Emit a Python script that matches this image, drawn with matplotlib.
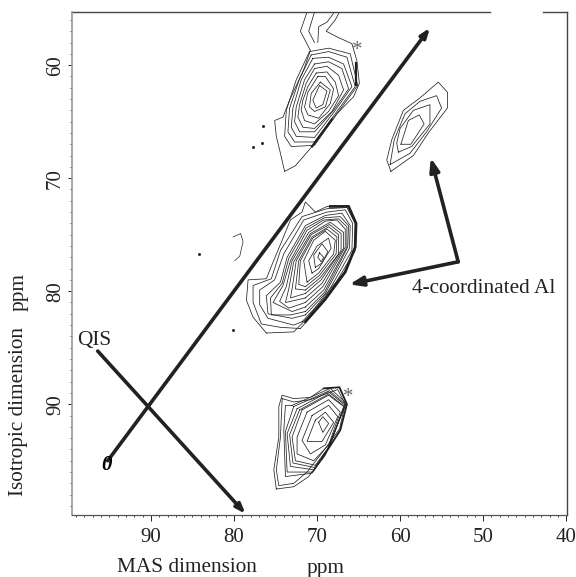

import matplotlib
matplotlib.use("Agg")
import matplotlib.pyplot as plt
from matplotlib.ticker import MultipleLocator

plt.rcParams["font.family"] = ["Liberation Serif", "DejaVu Serif"]

INK = "#222222"

# every ring is a list of (MAS ppm, isotropic ppm), outermost first
peak_a_open = [
    [(73.9, 69.4), (72.6, 68.9), (70.6, 67.2), (69.2, 65.8), (67.6, 64.3), (65.6, 62.8), (64.9, 61.6), (65.2, 59.6),
     (65.8, 58.1), (67.6, 57.5), (68.9, 57.0), (67.8, 56.0), (67.3, 55.3)],
    [(71.2, 55.3), (72.0, 57.0), (70.8, 58.7), (71.6, 60.4), (73.3, 63.1), (74.1, 64.6), (75.1, 64.9), (74.9, 66.3),
     (74.5, 67.5), (73.9, 69.4)],
    [(70.3, 55.3), (71.0, 57.0), (70.3, 58.0)],
    [(69.9, 58.0), (69.8, 56.6), (68.8, 56.2), (67.9, 55.3)],
]
peak_a_rings = [
    [(70.9, 58.8), (68.6, 58.5), (66.0, 59.0), (65.1, 61.8), (67.4, 64.1), (70.3, 67.1), (73.1, 67.2), (73.9, 66.3),
     (73.7, 64.0), (72.5, 61.3)],
    [(70.7, 59.1), (68.6, 58.8), (66.4, 59.3), (65.4, 61.9), (67.6, 64.1), (70.3, 66.8), (72.7, 66.8), (73.5, 65.9),
     (73.3, 63.8), (72.1, 61.2)],
    [(70.5, 59.4), (68.6, 59.3), (66.8, 59.9), (65.8, 61.9), (67.8, 64.0), (70.3, 66.4), (72.5, 66.3), (73.1, 65.5),
     (72.9, 63.8), (71.9, 61.3)],
    [(70.3, 59.9), (68.6, 59.7), (67.0, 60.3), (66.2, 62.1), (68.0, 64.0), (70.3, 65.9), (72.1, 65.9), (72.7, 65.0),
     (72.5, 63.7), (71.5, 61.3)],
    [(70.3, 60.3), (68.8, 60.1), (67.4, 60.9), (66.8, 62.2), (68.2, 64.1), (70.3, 65.6), (71.7, 65.5), (72.3, 64.6),
     (72.1, 63.5), (71.3, 61.6)],
    [(70.1, 60.7), (68.8, 60.6), (67.8, 61.5), (67.4, 62.7), (68.6, 64.1), (70.3, 65.2), (71.5, 64.9), (71.9, 64.0),
     (71.7, 63.1), (71.1, 61.9)],
    [(69.9, 61.0), (69.0, 61.0), (68.0, 62.1), (68.4, 63.4), (69.8, 64.7), (71.1, 64.4), (71.5, 63.7), (71.1, 62.4)],
    [(69.6, 61.5), (68.4, 62.2), (69.0, 63.7), (70.3, 64.1), (70.9, 63.7), (70.7, 62.5)],
    [(69.7, 61.8), (68.8, 62.3), (69.3, 63.5), (70.1, 63.8), (70.5, 63.1)],
]
peak_a_edge = [(70.6, 67.2), (69.2, 65.8), (68.2, 64.8)]
peak_a_side = [(65.3, 59.8), (65.3, 61.8)]

peak_b_rings = [
    [(76.1, 83.7), (72.8, 83.6), (71.2, 82.4), (69.2, 80.5), (66.8, 78.4), (65.4, 76.4), (65.3, 74.0), (66.2, 72.5),
     (68.8, 72.5), (70.2, 73.0), (71.4, 72.1), (71.8, 73.0), (73.2, 73.7), (74.2, 75.5), (75.5, 77.8), (76.1, 78.9),
     (78.3, 79.0), (78.5, 80.8), (77.7, 82.3)],
    [(72.0, 83.3), (69.0, 80.8), (65.5, 76.5), (65.4, 74.0), (66.4, 72.6), (68.8, 72.7), (71.8, 73.4), (74.4, 76.4),
     (75.5, 78.9), (77.7, 79.5), (77.7, 81.0), (76.7, 82.9), (74.4, 83.2)],
    [(71.8, 82.7), (69.0, 80.5), (65.8, 76.4), (65.7, 74.0), (66.6, 72.8), (68.8, 73.0), (71.6, 73.7), (74.0, 76.7),
     (75.1, 79.0), (76.9, 79.9), (76.9, 81.2), (75.9, 82.4), (72.8, 83.0)],
    [(71.4, 82.1), (69.0, 80.2), (66.1, 76.2), (66.0, 74.2), (67.0, 73.1), (69.0, 73.3), (71.4, 74.2), (73.6, 77.0),
     (74.4, 79.2), (76.1, 80.4), (75.9, 82.0), (73.0, 82.4)],
    [(71.4, 81.8), (69.1, 80.1), (66.3, 76.1), (66.2, 74.2), (67.2, 73.4), (69.1, 73.5), (71.3, 74.4), (73.4, 77.1),
     (74.2, 79.3), (75.6, 80.6), (75.5, 82.1), (73.2, 82.1)],
    [(71.4, 81.4), (69.2, 79.9), (66.4, 76.1), (66.4, 74.3), (67.4, 73.6), (69.2, 73.7), (71.2, 74.6), (73.2, 77.3),
     (74.1, 79.5), (75.3, 81.0), (73.0, 81.8)],
    [(71.4, 81.0), (69.3, 79.6), (66.6, 76.1), (66.6, 74.5), (67.6, 73.7), (69.0, 73.8), (71.0, 74.8), (73.0, 77.3),
     (73.7, 79.6), (74.5, 80.9), (73.4, 81.5)],
    [(71.4, 80.6), (69.4, 79.3), (66.8, 76.2), (66.8, 74.8), (68.4, 73.9), (70.8, 74.9), (72.8, 77.4), (73.4, 79.8),
     (73.8, 81.0)],
    [(71.4, 80.2), (69.5, 79.0), (67.1, 76.4), (67.1, 74.9), (68.5, 74.1), (70.7, 75.0), (72.5, 77.3), (73.0, 79.8),
     (73.2, 80.6)],
    [(71.4, 79.9), (69.6, 78.8), (67.4, 76.7), (67.4, 75.0), (68.6, 74.3), (70.6, 75.2), (72.2, 77.3), (72.6, 79.8)],
    [(71.4, 79.6), (69.7, 78.6), (67.7, 76.7), (67.6, 75.2), (68.8, 74.5), (70.5, 75.3), (72.0, 77.3), (72.2, 79.4)],
    [(71.2, 79.2), (69.8, 78.4), (68.0, 76.7), (67.8, 75.5), (69.0, 74.7), (70.4, 75.5), (71.6, 77.3)],
    [(70.6, 78.4), (69.8, 78.0), (68.3, 76.2), (68.6, 75.3), (70.0, 76.0), (71.0, 77.3)],
    [(70.2, 77.9), (69.4, 77.5), (68.7, 76.5), (69.4, 75.8), (70.4, 76.8)],
    [(69.7, 76.6), (69.2, 77.0), (69.5, 77.4), (69.9, 77.0)],
]
peak_b_edge = [(71.4, 82.7), (69.0, 80.7), (66.6, 78.3), (65.4, 76.1), (65.3, 74.0), (66.2, 72.5), (68.4, 72.5)]

peak_c_rings = [
    [(74.9, 97.5), (72.8, 97.3), (71.0, 96.4), (69.4, 94.8), (67.2, 92.3), (66.4, 90.0), (67.3, 88.5), (69.2, 88.6),
     (70.8, 89.4), (72.8, 89.5), (74.2, 89.2), (74.6, 90.2), (74.6, 92.9), (75.2, 95.8)],
    [(74.2, 89.5), (74.4, 92.9), (74.9, 95.8), (74.6, 97.2), (72.8, 97.0), (71.2, 96.0), (69.5, 94.4), (67.3, 92.2),
     (66.6, 90.0), (67.5, 88.7), (70.8, 89.6), (72.8, 89.8)],
    [(73.0, 90.1), (68.4, 88.6), (66.5, 89.9), (69.0, 94.5), (70.6, 96.1), (73.8, 96.4), (74.0, 92.3), (73.8, 90.1)],
    [(72.8, 90.2), (68.5, 88.8), (66.6, 90.0), (68.9, 94.3), (70.5, 96.0), (73.6, 96.0), (73.8, 92.4)],
    [(72.4, 90.4), (68.6, 88.9), (66.6, 90.1), (68.8, 94.1), (70.4, 95.8), (73.2, 95.5), (73.6, 92.6)],
    [(72.1, 90.5), (68.6, 89.1), (66.7, 90.2), (68.6, 93.9), (70.3, 95.6), (72.9, 95.2), (73.3, 92.7)],
    [(71.8, 90.5), (68.6, 89.2), (66.8, 90.2), (68.4, 93.6), (70.2, 95.4), (72.6, 95.0), (73.0, 92.9)],
    [(71.2, 90.7), (68.6, 89.6), (67.2, 90.7), (68.6, 93.6), (70.4, 95.0), (72.4, 94.4), (72.4, 92.9)],
    [(70.6, 91.0), (68.6, 90.1), (67.5, 91.1), (69.0, 93.6), (70.8, 94.4), (71.8, 93.2)],
    [(70.2, 91.4), (69.0, 90.7), (68.0, 91.6), (69.4, 93.3), (71.2, 93.3)],
    [(69.8, 91.6), (69.3, 91.1), (68.6, 91.7), (69.3, 92.5)],
]
peak_c_edge = [(69.2, 88.6), (67.3, 88.5), (66.4, 90.0), (67.2, 92.3), (69.4, 94.8)]

peak_d_rings = [
    [(61.1, 69.4), (58.4, 68.0), (56.6, 66.0), (54.3, 63.8), (54.3, 62.4), (55.4, 61.5), (57.6, 62.9), (59.6, 64.0),
     (61.0, 66.6), (61.6, 68.4)],
    [(61.2, 68.8), (58.8, 67.8), (56.8, 65.9), (55.0, 63.8), (55.6, 62.7), (57.6, 63.2), (59.4, 64.3), (60.7, 66.6)],
    [(60.2, 67.7), (58.6, 67.2), (56.4, 65.2), (56.4, 63.5), (58.4, 64.0), (60.0, 65.6), (60.4, 66.9)],
    [(59.9, 67.0), (58.7, 67.0), (57.1, 65.2), (57.7, 64.4), (59.0, 64.9)],
]

stray_ring = [(80.1, 75.2), (79.2, 74.9), (78.9, 75.6), (79.3, 76.9), (79.9, 77.3)]
stray_dots_x = [84.2, 80.1, 76.5, 77.7, 76.6]
stray_dots_y = [76.7, 83.4, 65.4, 67.2, 66.9]

star_positions = [(65.1, 58.7), (66.3, 89.4)]

axis_arrow = [(95.2, 95.0), (56.4, 56.7)]
qis_arrow = [(96.4, 85.3), (78.6, 99.7)]
al_corner = (53.0, 77.4)
al_targets = [(56.3, 68.2), (66.1, 79.4)]

x_ticks = [90, 80, 70, 60, 50, 40]
y_ticks = [60, 70, 80, 90]
top_line_spans = [(99.5, 49.2), (42.8, 39.9)]


def draw_open(ax, pts, lw=0.55):
    xs, ys = zip(*pts)
    ax.plot(xs, ys, color=INK, lw=lw, solid_joinstyle="miter")


def draw_ring(ax, pts, lw=0.55):
    draw_open(ax, list(pts) + [pts[0]], lw)


def draw_arrow(ax, start, end, head=1.0):
    ax.annotate("", xy=end, xytext=start,
                arrowprops=dict(arrowstyle=f"-|>,head_length={0.6 * head},head_width={0.22 * head}",
                                color=INK, lw=2.6, shrinkA=0, shrinkB=0))


def main():
    fig = plt.figure(figsize=(5.76, 5.77), dpi=100)
    ax = fig.add_axes([72 / 576, 1 - 515 / 577, 495 / 576, 503 / 577])

    for ring in peak_a_open:
        draw_open(ax, ring)
    for ring in peak_a_rings + peak_b_rings + peak_c_rings + peak_d_rings:
        draw_ring(ax, ring)
    draw_open(ax, peak_a_edge, lw=1.6)
    draw_open(ax, peak_a_side, lw=1.6)
    draw_open(ax, peak_b_edge, lw=2.0)
    draw_open(ax, peak_c_edge, lw=1.3)
    draw_open(ax, stray_ring, lw=0.5)
    ax.plot(stray_dots_x, stray_dots_y, ls="none", marker="s", ms=1.0, color=INK)

    for sx, sy in star_positions:
        ax.text(sx, sy, "*", fontsize=15, color="#666666", ha="center", va="center")

    draw_arrow(ax, axis_arrow[0], axis_arrow[1], head=0.9)
    draw_arrow(ax, qis_arrow[0], qis_arrow[1], head=0.9)
    ax.text(95.4, 95.4, "0", fontsize=15, fontweight="bold", style="italic", color="black", ha="center", va="center")
    for target in al_targets:
        draw_arrow(ax, al_corner, target, head=1.3)

    ax.text(96.8, 84.4, "QIS", fontsize=15.3, color=INK, ha="center", va="center")
    ax.text(49.9, 79.8, "4-coordinated Al", fontsize=15.3, color=INK, ha="center", va="center")

    ax.set_xlim(99.5, 39.9)
    ax.set_ylim(99.8, 55.3)
    ax.set_xticks(x_ticks)
    ax.set_yticks(y_ticks)
    ax.xaxis.set_minor_locator(MultipleLocator(1))
    ax.yaxis.set_minor_locator(MultipleLocator(1))
    ax.tick_params(axis="x", which="major", length=4, width=0.7, labelsize=15, labelcolor=INK, color=INK, pad=5.5)
    ax.tick_params(axis="y", which="major", length=3, width=0.7, labelsize=15, labelcolor=INK, color=INK, pad=2)
    ax.tick_params(axis="both", which="minor", length=1.5, width=0.6, color=INK)
    for label in ax.get_yticklabels():
        label.set_rotation(90)
        label.set_va("center")

    ax.spines["top"].set_visible(False)
    for a, b in top_line_spans:
        ax.plot([a, b], [55.3, 55.3], color="#444444", lw=1.0, clip_on=False)
    ax.spines["left"].set_color("#9a9a9a")
    ax.spines["left"].set_linewidth(1.2)
    ax.spines["right"].set_color("#444444")
    ax.spines["right"].set_linewidth(1.0)
    ax.spines["bottom"].set_color("#555555")
    ax.spines["bottom"].set_linewidth(0.9)

    fig.text(187 / 576, 1 - 568 / 577, "MAS dimension", fontsize=15.3, color=INK, ha="center", va="center")
    fig.text(326 / 576, 1 - 568 / 577, "ppm", fontsize=15.3, color=INK, ha="center", va="center")
    fig.text(19 / 576, 1 - 412 / 577, "Isotropic dimension", fontsize=15.3, color=INK, rotation=90, ha="center", va="center")
    fig.text(19 / 576, 1 - 292 / 577, "ppm", fontsize=15.3, color=INK, rotation=90, ha="center", va="center")

    fig.savefig("out.png", dpi=100)


if __name__ == "__main__":
    main()
